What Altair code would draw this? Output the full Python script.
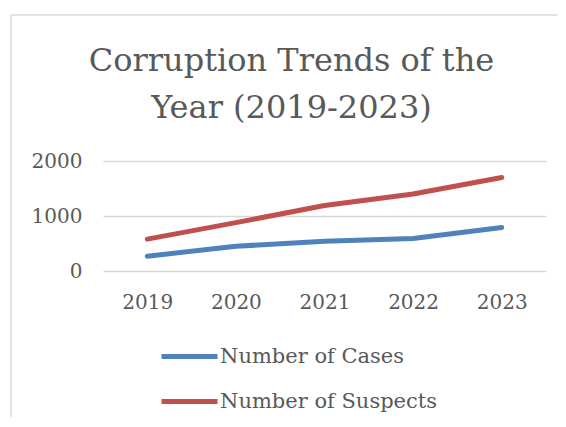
import altair as alt
import pandas as pd

years = ["2019", "2020", "2021", "2022", "2023"]
cases = [270, 450, 540, 590, 790]
suspects = [580, 880, 1190, 1400, 1700]
series = ["Number of Cases", "Number of Suspects"]
colors = ["#4F81BD", "#C0504D"]
y_ticks = [0, 1000, 2000]
title_lines = ["Corruption Trends of the", "Year (2019-2023)"]

rows = []
for name, vals in zip(series, [cases, suspects]):
    for yr, v in zip(years, vals):
        rows.append({"Year": yr, "Value": v, "Series": name})
df = pd.DataFrame(rows)

FONT = "DejaVu Serif"
GRAY = "#595959"

lines = alt.Chart(df).mark_line(strokeWidth=5, strokeCap="round", strokeJoin="round").encode(
    x=alt.X("Year:O", sort=years,
            scale=alt.Scale(type="point", padding=0.5),
            axis=alt.Axis(title=None, labelAngle=0, domain=False, ticks=False, grid=False,
                          labelPadding=21, labelFont=FONT, labelFontSize=20, labelColor=GRAY)),
    y=alt.Y("Value:Q", scale=alt.Scale(domain=[0, 2000], nice=False),
            axis=alt.Axis(title=None, values=y_ticks, domain=False, ticks=False, grid=True,
                          gridColor="#d9d9d9", gridWidth=1.5, format="d",
                          labelPadding=21, labelFont=FONT, labelFontSize=20, labelColor=GRAY)),
    color=alt.Color("Series:N", scale=alt.Scale(domain=series, range=colors),
                    legend=alt.Legend(title=None, orient="none", legendX=56, legendY=165,
                                      direction="vertical", symbolType="stroke", symbolSize=3136,
                                      symbolStrokeWidth=5, labelFont=FONT, labelFontSize=21,
                                      labelColor=GRAY, labelOffset=0, rowPadding=4, padding=0,
                                      labelLimit=400)),
)

frame_df = pd.DataFrame({"k": [0]})
frame_left = alt.Chart(frame_df).mark_rule(color="#d9d9d9", strokeWidth=1.5).encode(
    x=alt.value(-92), y=alt.value(-146), y2=alt.value(400))
frame_top = alt.Chart(frame_df).mark_rule(color="#d9d9d9", strokeWidth=1.5).encode(
    x=alt.value(-92), x2=alt.value(455), y=alt.value(-146))

chart = alt.layer(frame_left, frame_top, lines).properties(
    width=443, height=110,
    padding={"left": 95, "top": 153, "right": 12, "bottom": 146},
    autosize=alt.AutoSizeParams(type="none"),
    title=alt.TitleParams(title_lines, font=FONT, fontSize=32, fontWeight="normal", color=GRAY,
                          anchor="middle", frame="group", dx=-33, lineHeight=47, offset=-136,
                          baseline="alphabetic"),
    background="white",
).configure_view(stroke=None)

chart.save("out.html", embed_options={"renderer": "svg", "actions": False})
